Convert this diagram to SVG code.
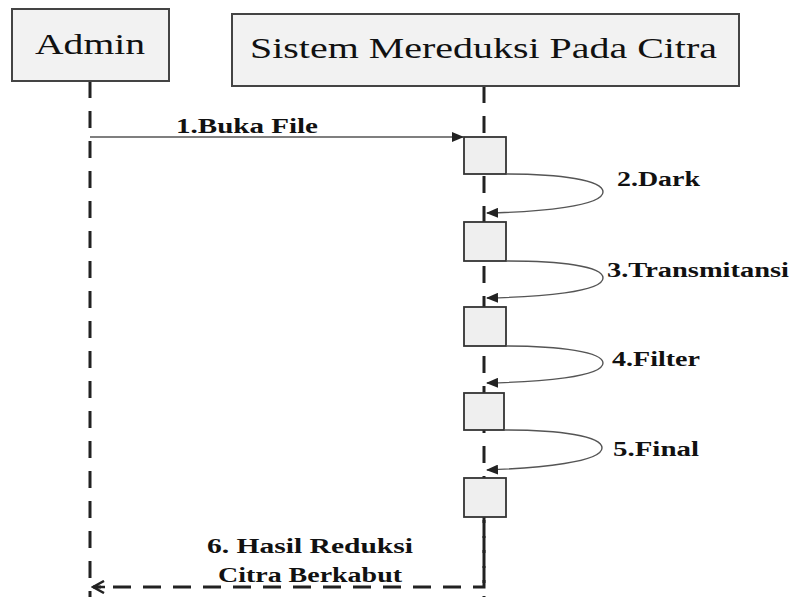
<svg xmlns="http://www.w3.org/2000/svg" width="795" height="597" viewBox="0 0 795 597">
<style>
.actor{fill:#f2f2f2;stroke:#444;stroke-width:2}
.act{fill:#efefef;stroke:#333;stroke-width:1.8}
.life{stroke:#222;stroke-width:3;stroke-dasharray:17 13;fill:none}
.msg{stroke:#555;stroke-width:1.4;fill:none}
.ret{stroke:#222;stroke-width:3;stroke-dasharray:18 12;fill:none}
.title{font-family:'Liberation Serif','Times New Roman','DejaVu Serif',serif;font-size:30px;fill:#111}
.lbl{font-family:'Liberation Serif','Times New Roman','DejaVu Serif',serif;font-size:20px;font-weight:bold;fill:#111}
</style>
<defs>
<marker id="ah" markerWidth="12" markerHeight="10" refX="11" refY="5" orient="auto" markerUnits="userSpaceOnUse">
<path d="M0,0 L12,5 L0,10 Z" fill="#222"/>
</marker>
<marker id="ahOpen" markerWidth="14" markerHeight="14" refX="12" refY="7" orient="auto" markerUnits="userSpaceOnUse">
<path d="M1,1 L12,7 L1,13 M0,7 L12,7" fill="none" stroke="#222" stroke-width="2.5"/>
</marker>
</defs>
<rect width="795" height="597" fill="#fff"/>
<g id="lifelines">
<line class="life" x1="90" y1="81" x2="90" y2="597"/>
<line class="life" x1="484" y1="86" x2="484" y2="597"/>
</g>
<g id="admin">
<rect class="actor" x="12" y="9" width="157" height="72"/>
<text class="title" x="35" y="54" textLength="110" lengthAdjust="spacingAndGlyphs">Admin</text>
</g>
<g id="sistem">
<rect class="actor" x="232" y="14" width="507" height="72"/>
<text class="title" x="250" y="58" textLength="467" lengthAdjust="spacingAndGlyphs">Sistem Mereduksi Pada Citra</text>
</g>
<g id="activations">
<rect class="act" x="464" y="137" width="42" height="37"/>
<rect class="act" x="464" y="222" width="42" height="39"/>
<rect class="act" x="464" y="307" width="42" height="39"/>
<rect class="act" x="464" y="393" width="40" height="37"/>
<rect class="act" x="464" y="478" width="42" height="39"/>
</g>
<g id="connectors">
<line class="msg" x1="90" y1="137" x2="463" y2="137" marker-end="url(#ah)"/>
<path class="msg" d="M506,174 C560,174 603,180 603,192 C603,206 540,212 487,213" marker-end="url(#ah)"/>
<path class="msg" d="M506,261 C560,261 603,266 603,278 C603,292 540,297 487,298" marker-end="url(#ah)"/>
<path class="msg" d="M506,346 C560,346 603,352 603,363 C603,377 540,382 487,383" marker-end="url(#ah)"/>
<path class="msg" d="M504,430 C560,430 602,436 602,448 C602,462 540,468 487,470" marker-end="url(#ah)"/>
<path class="ret" d="M484,520 L484,587 L93,587" marker-end="url(#ahOpen)"/>
</g>
<g id="labels">
<text class="lbl" x="176" y="133" textLength="142" lengthAdjust="spacingAndGlyphs">1.Buka File</text>
<text class="lbl" x="617" y="186" textLength="83" lengthAdjust="spacingAndGlyphs">2.Dark</text>
<text class="lbl" x="607" y="277" textLength="182" lengthAdjust="spacingAndGlyphs">3.Transmitansi</text>
<text class="lbl" x="612" y="366" textLength="88" lengthAdjust="spacingAndGlyphs">4.Filter</text>
<text class="lbl" x="613" y="456" textLength="86" lengthAdjust="spacingAndGlyphs">5.Final</text>
<text class="lbl" x="207" y="553" textLength="206" lengthAdjust="spacingAndGlyphs">6. Hasil Reduksi</text>
<text class="lbl" x="218" y="582" textLength="184" lengthAdjust="spacingAndGlyphs">Citra Berkabut</text>
</g>
</svg>
